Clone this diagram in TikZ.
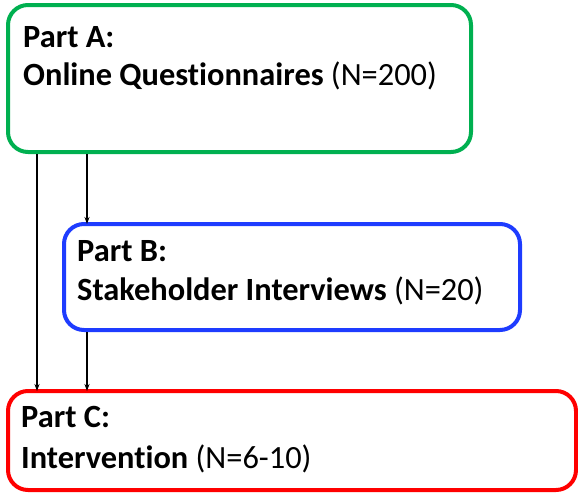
\documentclass[tikz,border=0pt]{standalone}
\usepackage{fontspec}
\setmainfont{Carlito}[RawFeature={-liga}]
\usetikzlibrary{arrows.meta}
\definecolor{cgreen}{RGB}{0,176,80}
\definecolor{cblue}{RGB}{30,60,255}
\definecolor{cred}{RGB}{255,0,0}
\tikzset{
  box/.style={draw, line width=4pt, rounded corners=20pt, inner sep=0pt},
  txt/.style={anchor=base west, inner sep=0pt, font=\fontsize{32.4}{38}\selectfont},
  arr/.style={line width=1.1pt, -{Stealth[length=7pt,width=5pt]}}
}
\begin{document}
\begin{tikzpicture}[x=1pt,y=-1pt]
\useasboundingbox (0,0) rectangle (578,493);
\node[box, draw=cgreen, minimum width=463pt, minimum height=147pt] (A) at (239.5,78.5) {};
\node[box, draw=cblue, minimum width=456pt, minimum height=106pt] (B) at (292,277) {};
\node[box, draw=cred, minimum width=568pt, minimum height=99pt] (C) at (292,440.5) {};
\node[txt] (a1) at (23,47) {\textbf{Part A:}};
\node[txt] (a2) at (23,85) {\textbf{Online Questionnaires} (N=200)};
\node[txt] (b1) at (77,261) {\textbf{Part B:}};
\node[txt] (b2) at (77,300) {\textbf{Stakeholder Interviews} (N=20)};
\node[txt] (c1) at (21,427) {\textbf{Part C:}};
\node[txt] (c2) at (21,468) {\textbf{Intervention} (N=6-10)};
\coordinate (x1) at (37,0);
\coordinate (x2) at (87,0);
\draw[arr] (A.south -| x1) -- ([yshift=-2pt]C.north -| x1);
\draw[arr] (A.south -| x2) -- ([yshift=-2pt]B.north -| x2);
\draw[arr] (B.south -| x2) -- ([yshift=-2pt]C.north -| x2);
\end{tikzpicture}
\end{document}
